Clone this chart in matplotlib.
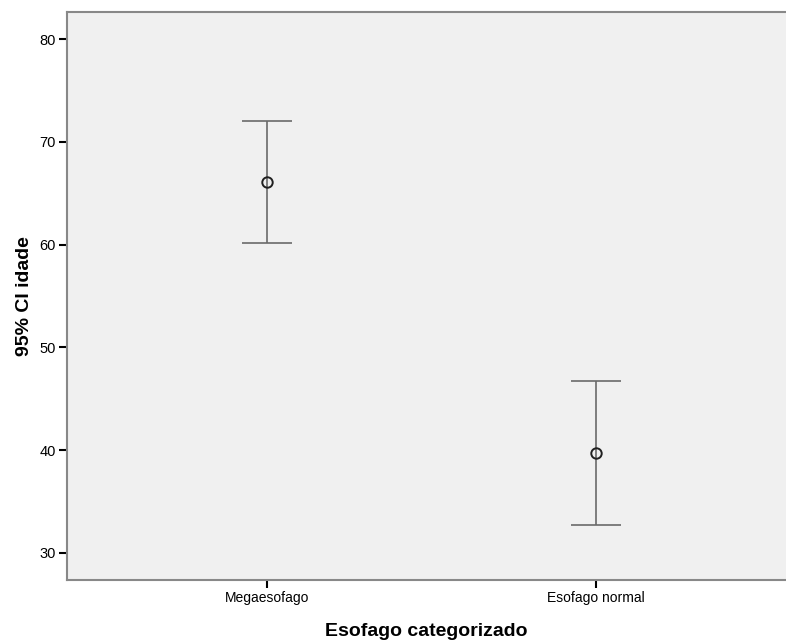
import matplotlib
matplotlib.use("Agg")
import matplotlib.pyplot as plt

categories = ["Megaesofago", "Esofago normal"]
means = [66.1, 39.7]
lower = [60.2, 32.7]
upper = [72.0, 46.7]
yticks = [30, 40, 50, 60, 70, 80]

plt.rcParams['font.family'] = ['Liberation Sans', 'DejaVu Sans']

fig = plt.figure(figsize=(7.86, 6.41), dpi=100)
ax = fig.add_axes([67/786, 61/641, 1 - 67/786, (580-12)/641])
ax.set_facecolor('#f0f0f0')

x = list(range(len(categories)))
yerr = [[m - l for m, l in zip(means, lower)], [u - m for m, u in zip(means, upper)]]
ax.errorbar(x, means, yerr=yerr, fmt='none', ecolor='#6a6a6a', elinewidth=1.2,
            capsize=18, capthick=1.2, zorder=2)
ax.plot(x, means, linestyle='none', marker='o', markersize=7.5, markerfacecolor='none',
        markeredgecolor='#202020', markeredgewidth=1.4, zorder=3)

ax.set_xlim(-0.609, 1.578)
ax.set_ylim(27.34, 82.66)
ax.set_xticks(x)
ax.set_xticklabels(categories, fontsize=10)
ax.set_yticks(yticks)
ax.set_yticklabels([str(t) for t in yticks], fontsize=10.5)
ax.tick_params(axis='both', direction='out', length=6, width=1.5, color='black', pad=2)

for s in ['left', 'bottom', 'top']:
    ax.spines[s].set_color('#888888')
    ax.spines[s].set_linewidth(1.5)
ax.spines['right'].set_visible(False)

ax.set_xlabel("Esofago categorizado", fontsize=14, fontweight='bold', labelpad=13)
ax.set_ylabel("95% CI idade", fontsize=14, fontweight='bold', labelpad=5)

fig.savefig("out.png", dpi=100)
